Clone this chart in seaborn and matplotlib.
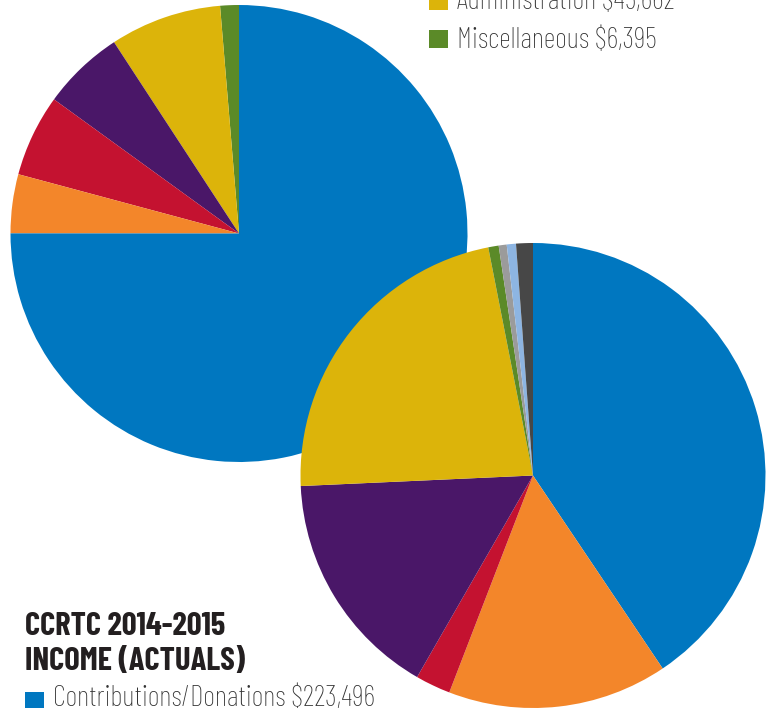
import matplotlib
matplotlib.use("Agg")
import matplotlib.pyplot as plt
from matplotlib.patches import Rectangle
import seaborn as sns

# Expense pie (top left)
expense_labels = ["Miscellaneous", "Administration", "Purple item", "Red item", "Orange item", "Blue item"]
expense_values = [6395, 38150, 28080, 28080, 20150, 362750]
expense_colors = ["#5B8A28", "#DCB40A", "#4A1768", "#C41230", "#F3862A", "#0077C0"]

# Income pie (bottom right), clockwise from 12 o'clock
income_labels = ["Contributions/Donations", "Orange", "Red", "Purple", "Yellow",
                 "Green", "Gray", "Light blue", "Dark gray"]
income_values = [223496, 84140, 13460, 87960, 124670, 3980, 3060, 3520, 6425]
income_colors = ["#0077C0", "#F3862A", "#C41230", "#4A1768", "#DCB40A",
                 "#5B8A28", "#9B9B9B", "#8DB5E2", "#474747"]

sns.set_style("white")
plt.rcParams["font.family"] = ["Barlow Condensed", "DejaVu Sans"]

W, H = 772, 708
fig = plt.figure(figsize=(W / 100, H / 100), dpi=100)
ax = fig.add_axes([0, 0, 1, 1])

# top-left pie
ax.pie(expense_values, colors=sns.color_palette(expense_colors), startangle=90,
       counterclock=True, radius=228.5, center=(239, H - 233.5),
       wedgeprops=dict(linewidth=0))

# bottom-right pie drawn on top
ax.pie(income_values, colors=sns.color_palette(income_colors), startangle=90,
       counterclock=False, radius=232.5, center=(533, H - 475.5),
       wedgeprops=dict(linewidth=0))

ax.set_xlim(0, W)
ax.set_ylim(0, H)
ax.set_aspect("equal")
ax.axis("off")

txt_col = "#333333"
fs = 21

# top legend (expenses)
ax.add_patch(Rectangle((429, H - 10), 19, 19, color=expense_colors[1], lw=0))
ax.text(457, H - 9, "Administration $45,662", fontsize=fs, fontweight="light",
        color=txt_col, va="baseline")
ax.add_patch(Rectangle((429, H - 48), 19, 18, color=expense_colors[0], lw=0))
ax.text(457, H - 48, "Miscellaneous $6,395", fontsize=fs, fontweight="light",
        color=txt_col, va="baseline")

# income title + legend
ax.text(25, H - 635, "CCRTC 2014-2015", fontsize=23.5, fontweight="bold",
        color="#231F20", va="baseline")
ax.text(25, H - 670, "INCOME (ACTUALS)", fontsize=23.5, fontweight="bold",
        color="#231F20", va="baseline")
ax.add_patch(Rectangle((25, H - 711), 19, 19, color=income_colors[0], lw=0))
ax.text(53, H - 706, "Contributions/Donations $223,496", fontsize=fs, fontweight="light",
        color=txt_col, va="baseline")

fig.savefig("out.png", dpi=100)
